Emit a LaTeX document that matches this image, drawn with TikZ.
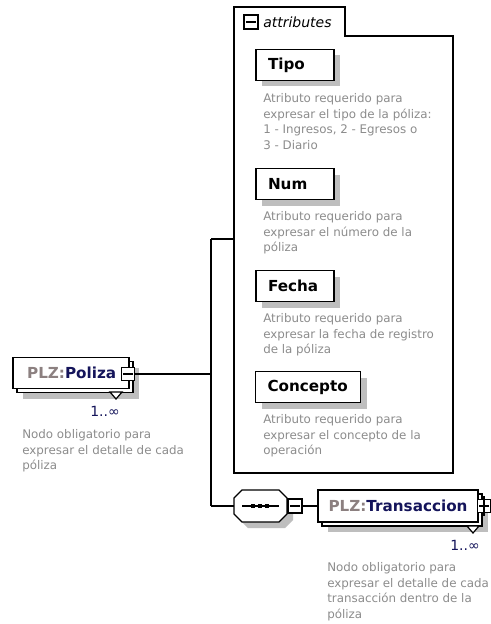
\documentclass[tikz,border=0pt]{standalone}
\usepackage{fontspec}
\setmainfont{DejaVu Sans}
\usetikzlibrary{shadows}
\definecolor{desctext}{RGB}{140,140,140}
\definecolor{prefix}{RGB}{140,128,128}
\definecolor{navy}{RGB}{20,20,90}
\definecolor{shadowgray}{RGB}{190,190,190}
\def\u{0.75pt}
\tikzset{
  sh/.style={drop shadow={shadow xshift=4.5pt, shadow yshift=-4.5pt, opacity=1, fill=shadowgray}},
  attbox/.style={draw, line width=0.9pt, fill=white, sh, minimum height=31*\u, inner xsep=12*\u, inner ysep=0pt, align=left, font=\fontsize{11.4}{14}\selectfont\bfseries},
  elbox/.style={draw, line width=0.9pt, fill=white, minimum height=31*\u, inner sep=0pt, font=\fontsize{11.4}{14}\selectfont\bfseries},
  descnode/.style={anchor=north west, inner sep=0pt, align=left, text=desctext, font=\fontsize{8.9}{11.8}\selectfont},
  icon/.style={draw, line width=0.9pt, fill=white, minimum size=13*\u, inner sep=0pt},
  mult/.style={inner sep=0pt, text=navy, font=\fontsize{10.5}{12}\selectfont},
  conn/.style={line width=0.8pt},
}
\begin{document}
\begin{tikzpicture}[x=0.75pt,y=-0.75pt]
\useasboundingbox (0,0) rectangle (491,624);
\fill[white] (0,0) rectangle (491,624);

% attributes container
\draw[line width=0.9pt] (234,473) -- (234,7) -- (345,7) -- (345,36) -- (453,36) -- (453,473) -- cycle;
\node[icon, minimum size=14*\u] (atticon) at (251,22) {};
\draw[line width=0.9pt] ([xshift=2.5*\u]atticon.west) -- ([xshift=-2.5*\u]atticon.east);
\node[anchor=west, inner sep=0pt, font=\fontsize{10.5}{13}\selectfont\itshape] (atttext) at (263,22) {attributes};
\coordinate (attrw) at (234,239);

% attribute boxes
\node[attbox, text width=54*\u] (tipo) at (295,65) {Tipo};
\node[descnode] (tipod) at (263,93) {Atributo requerido para\\expresar el tipo de la póliza:\\1 - Ingresos, 2 - Egresos o\\3 - Diario};
\node[attbox, text width=54*\u] (num) at (295,184) {Num};
\node[descnode] (numd) at (263,211) {Atributo requerido para\\expresar el número de la\\póliza};
\node[attbox, text width=54*\u] (fecha) at (295,286) {Fecha};
\node[descnode] (fechad) at (263,313) {Atributo requerido para\\expresar la fecha de registro\\de la póliza};
\node[attbox, text width=81*\u] (concepto) at (308,387) {Concepto};
\node[descnode] (conceptod) at (263,414) {Atributo requerido para\\expresar el concepto de la\\operación};

% Poliza element
\node[elbox, sh, minimum width=116*\u] (polizaback) at (75,377) {};
\draw[line width=0.9pt, fill=white] (110,392) -- (122,392) -- (116,399) -- cycle;
\node[elbox, minimum width=116*\u] (poliza) at (71,373) {\hspace*{1pt}\textcolor{prefix}{PLZ:}\textcolor{navy}{Poliza}};
\node[icon] (polizaicon) at (128,374) {};
\draw[line width=0.9pt] ([xshift=2.5*\u]polizaicon.west) -- ([xshift=-2.5*\u]polizaicon.east);
\node[mult] (polizam) at (105,411) {1..∞};
\node[descnode] (polizad) at (22,429) {Nodo obligatorio para\\expresar el detalle de cada\\póliza};

% connectors
\coordinate (jtop) at (211,239);
\coordinate (jbot) at (211,506);
\draw[conn] (polizaicon.east) -- (polizaicon.east -| jtop);
\draw[conn] (jtop) -- (jbot);
\draw[conn] (jtop) -- (attrw);

% sequence compositor
\node[minimum width=53*\u, minimum height=32*\u, inner sep=0pt] (seq) at (260.5,506) {};
\fill[shadowgray, shift={(6,6)}] (234,498) -- (242,490) -- (279,490) -- (287,498) -- (287,514) -- (279,522) -- (242,522) -- (234,514) -- cycle;
\draw[line width=0.9pt, fill=white] (234,498) -- (242,490) -- (279,490) -- (287,498) -- (287,514) -- (279,522) -- (242,522) -- (234,514) -- cycle;
\draw[line width=0.9pt] (242,506) -- (279,506);
\foreach \dx in {253,260,267} \fill (\dx-2,504) rectangle (\dx+2,508);
\draw[conn] (jbot) -- (seq.west);
\node[icon, minimum size=14*\u] (seqicon) at (295,506) {};
\draw[line width=0.9pt] ([xshift=2.5*\u]seqicon.west) -- ([xshift=-2.5*\u]seqicon.east);

% Transaccion element
\node[elbox, sh, minimum width=160*\u, minimum height=32*\u] (transback) at (402,510) {};
\draw[line width=0.9pt, fill=white] (467,526) -- (479,526) -- (473,533) -- cycle;
\node[elbox, minimum width=160*\u, minimum height=32*\u] (trans) at (398,506) {\textcolor{prefix}{PLZ:}\textcolor{navy}{Transaccion}};
\draw[conn] (seqicon.east) -- (trans.west);
\node[icon] (transicon) at (484,506) {};
\draw[line width=0.9pt] ([xshift=2.5*\u]transicon.west) -- ([xshift=-2.5*\u]transicon.east);
\draw[line width=0.9pt] ([yshift=2.5*\u]transicon.north) -- ([yshift=-2.5*\u]transicon.south);
\node[mult] (transm) at (465,545) {1..∞};
\node[descnode] (transd) at (327,562) {Nodo obligatorio para\\expresar el detalle de cada\\transacción dentro de la\\póliza};
\end{tikzpicture}
\end{document}
